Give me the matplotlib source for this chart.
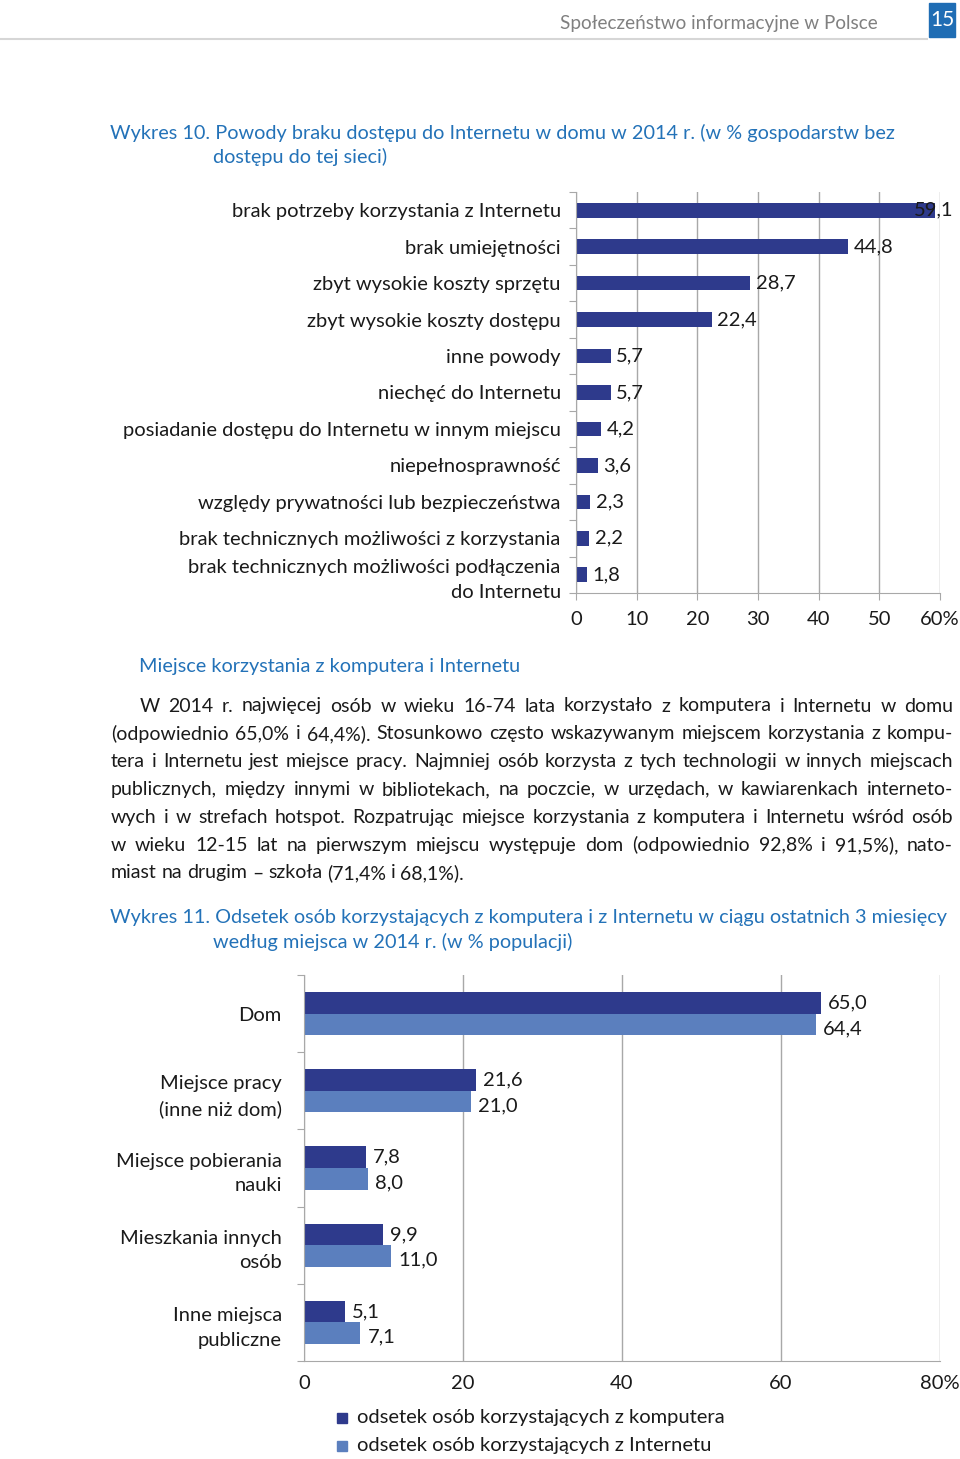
import matplotlib
matplotlib.use('Agg')
import numpy as np
import matplotlib.pyplot as plt
import matplotlib.patches as mpatches
from matplotlib.lines import Line2D

plt.rcParams['font.family'] = ['Lato', 'DejaVu Sans']

W, H = 960, 1459
DARK = '#2E3A8C'
LIGHT = '#5B7FBE'
BLUE_TXT = '#2372B8'
GRID = '#A8A8A8'
TXT = '#1A1A1A'
FS = 14.5

# Wykres 10 - powody braku dostępu do Internetu
reasons = ['brak potrzeby korzystania z Internetu',
           'brak umiejętności',
           'zbyt wysokie koszty sprzętu',
           'zbyt wysokie koszty dostępu',
           'inne powody',
           'niechęć do Internetu',
           'posiadanie dostępu do Internetu w innym miejscu',
           'niepełnosprawność',
           'względy prywatności lub bezpieczeństwa',
           'brak technicznych możliwości z korzystania',
           'brak technicznych możliwości podłączenia\ndo Internetu']
reasons_pct = [59.1, 44.8, 28.7, 22.4, 5.7, 5.7, 4.2, 3.6, 2.3, 2.2, 1.8]
ticks1 = [0, 10, 20, 30, 40, 50, 60]

# Wykres 11 - miejsca korzystania
places = ['Dom', 'Miejsce pracy\n(inne niż dom)', 'Miejsce pobierania\nnauki',
          'Mieszkania innych\nosób', 'Inne miejsca\npubliczne']
computer_pct = [65.0, 21.6, 7.8, 9.9, 5.1]
internet_pct = [64.4, 21.0, 8.0, 11.0, 7.1]
ticks2 = [0, 20, 40, 60, 80]
legend_labels = ['odsetek osób korzystających z komputera',
                 'odsetek osób korzystających z Internetu']

paragraph = [
    'W 2014 r. najwięcej osób w wieku 16-74 lata korzystało z komputera i Internetu w domu',
    '(odpowiednio 65,0% i 64,4%). Stosunkowo często wskazywanym miejscem korzystania z kompu-',
    'tera i Internetu jest miejsce pracy. Najmniej osób korzysta z tych technologii w innych miejscach',
    'publicznych, między innymi w bibliotekach, na poczcie, w urzędach, w kawiarenkach interneto-',
    'wych i w strefach hotspot. Rozpatrując miejsce korzystania z komputera i Internetu wśród osób',
    'w wieku 12-15 lat na pierwszym miejscu występuje dom (odpowiednio 92,8% i 91,5%), nato-',
    'miast na drugim – szkoła (71,4% i 68,1%).',
]


def fx(px):
    return px / W


def fy(py):
    return 1 - py / H


def fmt(v):
    return f'{v:.1f}'.replace('.', ',')


fig = plt.figure(figsize=(9.6, 14.59), dpi=100)

# header
fig.text(fx(878), fy(24), 'Społeczeństwo informacyjne w Polsce', ha='right', va='center',
         fontsize=13.6, color='#808080')
fig.add_artist(Line2D([0, fx(927)], [fy(39), fy(39)], color='#D6D6D6', lw=1.5))
fig.add_artist(mpatches.Rectangle((fx(929), fy(37)), 26 / W, 34 / H, transform=fig.transFigure,
                                  color='#1F6DB4'))
fig.text(fx(942), fy(20), '15', ha='center', va='center', fontsize=15, color='white')

# titles
fig.text(fx(110), fy(133), 'Wykres 10. Powody braku dostępu do Internetu w domu w 2014 r. (w % gospodarstw bez',
         va='center', fontsize=14.3, color=BLUE_TXT)
fig.text(fx(213), fy(157), 'dostępu do tej sieci)', va='center', fontsize=14.3, color=BLUE_TXT)
fig.text(fx(139), fy(666), 'Miejsce korzystania z komputera i Internetu', va='center', fontsize=14.3,
         color=BLUE_TXT)
fig.text(fx(110), fy(918), 'Wykres 11. Odsetek osób korzystających z komputera i z Internetu w ciągu ostatnich 3 miesięcy',
         va='center', fontsize=14.3, color=BLUE_TXT)
fig.text(fx(213), fy(942), 'według miejsca w 2014 r. (w % populacji)', va='center', fontsize=14.3,
         color=BLUE_TXT)


def style_axis(ax):
    for s in ['top', 'right']:
        ax.spines[s].set_visible(False)
    for s in ['left', 'bottom']:
        ax.spines[s].set_color(GRID)
    ax.xaxis.grid(True, color=GRID, lw=1)
    ax.set_axisbelow(True)
    ax.tick_params(axis='both', which='major', color=GRID, length=5, labelsize=FS, labelcolor=TXT)
    ax.tick_params(axis='y', which='minor', length=0, labelsize=FS, labelcolor=TXT, pad=11)


# chart 1
ax1 = fig.add_axes([fx(576), fy(593), (940 - 576) / W, (593 - 192) / H])
y1 = np.arange(len(reasons))
ax1.barh(y1, reasons_pct, height=0.4, color=DARK)
ax1.set_xlim(0, 60)
ax1.set_ylim(len(reasons) - 0.5, -0.5)
ax1.set_xticks(ticks1)
ax1.set_xticklabels([str(t) for t in ticks1[:-1]] + [f'{ticks1[-1]}%'])
ax1.set_yticks(np.arange(len(reasons) + 1) - 0.5)
ax1.set_yticklabels([])
ax1.set_yticks(y1, minor=True)
ax1.set_yticklabels(reasons, minor=True, linespacing=1.55)
style_axis(ax1)
ax1.tick_params(axis='x', which='major', pad=8)
for i, v in enumerate(reasons_pct):
    if v > 55:
        ax1.annotate(fmt(v), xy=(1, i), xycoords=('axes fraction', 'data'), xytext=(10, 0),
                     textcoords='offset points', ha='right', va='center', fontsize=FS, color=TXT)
    else:
        ax1.annotate(fmt(v), xy=(v, i), xytext=(4, 0), textcoords='offset points',
                     va='center', fontsize=FS, color=TXT)

# chart 2
ax2 = fig.add_axes([fx(304), fy(1361), (940 - 304) / W, (1361 - 975) / H])
y2 = np.arange(len(places))
bh = 0.28
ax2.barh(y2 - bh / 2, computer_pct, height=bh, color=DARK)
ax2.barh(y2 + bh / 2, internet_pct, height=bh, color=LIGHT)
ax2.set_xlim(0, 80)
ax2.set_ylim(len(places) - 0.5, -0.5)
ax2.set_xticks(ticks2)
ax2.set_xticklabels([str(t) for t in ticks2[:-1]] + [f'{ticks2[-1]}%'])
ax2.set_yticks(np.arange(len(places) + 1) - 0.5)
ax2.set_yticklabels([])
ax2.set_yticks(y2, minor=True)
ax2.set_yticklabels(places, minor=True, linespacing=1.55)
style_axis(ax2)
ax2.tick_params(axis='x', which='major', length=0, pad=10)
ax2.tick_params(axis='y', which='minor', pad=16)
for i, (c, n) in enumerate(zip(computer_pct, internet_pct)):
    ax2.annotate(fmt(c), xy=(c, i - bh / 2), xytext=(5, 0), textcoords='offset points',
                 va='center', fontsize=FS, color=TXT)
    ax2.annotate(fmt(n), xy=(n, i + bh / 2), xytext=(5, -3), textcoords='offset points',
                 va='center', fontsize=FS, color=TXT)

# legend
for k, (lab, col) in enumerate(zip(legend_labels, [DARK, LIGHT])):
    yc = 1418 + 28 * k
    fig.add_artist(mpatches.Rectangle((fx(337), fy(yc + 5)), 10 / W, 10 / H,
                                      transform=fig.transFigure, color=col))
    fig.text(fx(357), fy(yc), lab, va='center', fontsize=FS, color=TXT)

# justified paragraph
fig.canvas.draw()
renderer = fig.canvas.get_renderer()
x_right = 953
for k, line in enumerate(paragraph):
    yc = 706 + 27.8 * k
    x0 = 140 if k == 0 else 111
    words = line.split(' ')
    texts = [fig.text(0, fy(yc), w, va='center', fontsize=14, color=TXT) for w in words]
    widths = [t.get_window_extent(renderer).width for t in texts]
    if k == len(paragraph) - 1:
        gap = renderer.points_to_pixels(14) * 0.25
    else:
        gap = (x_right - x0 - sum(widths)) / (len(words) - 1)
    x = x0
    for t, w in zip(texts, widths):
        t.set_x(fx(x))
        x += w + gap

fig.savefig('out.png', dpi=100)
